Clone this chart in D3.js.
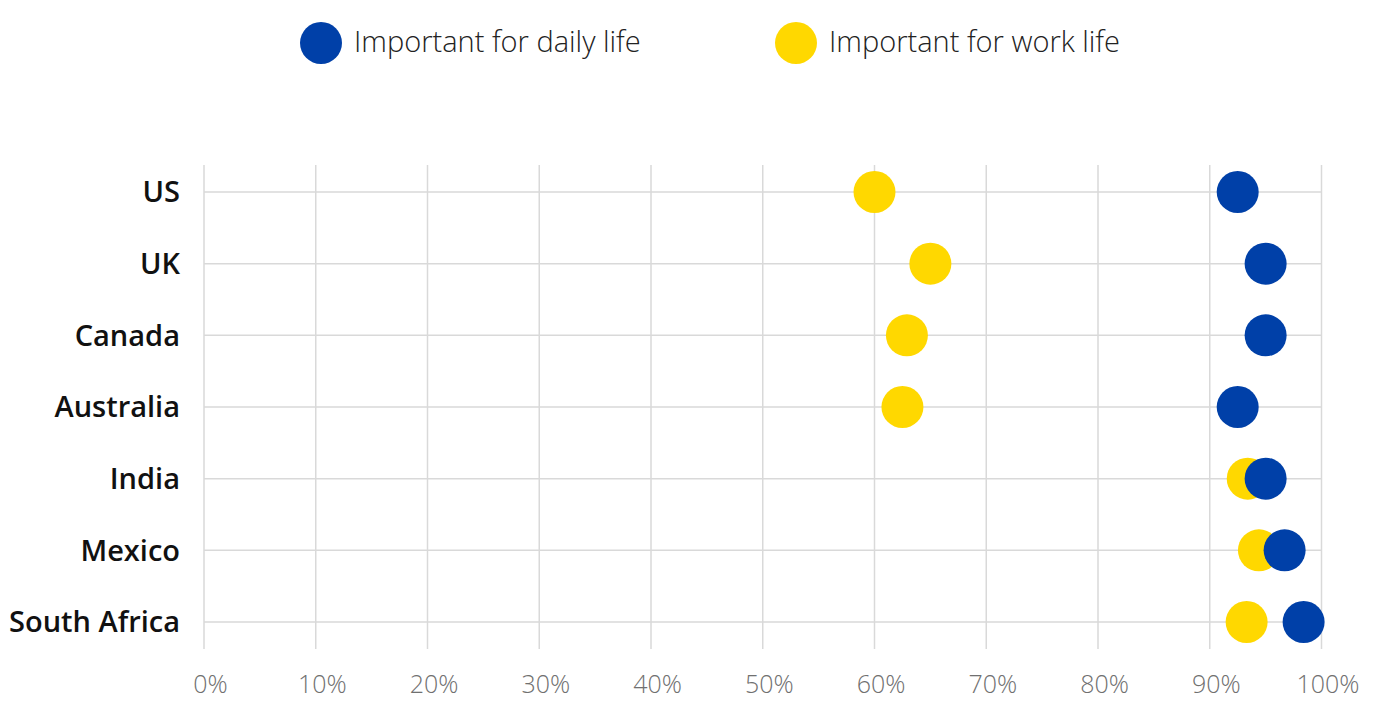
<!DOCTYPE html>
<html><head><meta charset="utf-8">
<script src="https://cdn.jsdelivr.net/npm/d3@7"></script>
<style>body{margin:0;background:#fff;}svg{display:block;font-family:"Open Sans",sans-serif;}</style>
</head><body><svg id="c" width="1375" height="706"></svg>
<script>
const countries = ["US","UK","Canada","Australia","India","Mexico","South Africa"];
const dailyLife = [92.5,95.0,95.0,92.5,95.0,96.7,98.4];
const workLife  = [60.0,65.0,62.9,62.5,93.4,94.4,93.3];
const xTicks = [0,10,20,30,40,50,60,70,80,90,100];
const seriesNames = ["Important for daily life","Important for work life"];
const colors = ["#0040A8","#FFD800"];

const svg = d3.select("#c");
const x = d3.scaleLinear().domain([0,100]).range([204,1321.5]);
const y = d3.scalePoint().domain(countries).range([165,649]).padding(0.377);

// grid
svg.append("g").selectAll("line").data(xTicks).join("line")
  .attr("x1",d=>x(d)).attr("x2",d=>x(d)).attr("y1",165).attr("y2",649)
  .attr("stroke","#d9d9d9").attr("stroke-width",1.5);
svg.append("g").selectAll("line").data(countries).join("line")
  .attr("x1",x(0)).attr("x2",x(100)).attr("y1",d=>y(d)).attr("y2",d=>y(d))
  .attr("stroke","#d9d9d9").attr("stroke-width",1.5);

// x axis labels
const xa = svg.append("g").attr("transform","translate(0,649)")
  .call(d3.axisBottom(x).tickValues(xTicks).tickFormat(d=>d+"%").tickSize(0).tickPadding(0));
xa.select(".domain").remove();
xa.selectAll("text").attr("dx",6).attr("dy",44).attr("font-size",25).attr("font-weight",300)
  .attr("fill","#707070").attr("font-family","'Open Sans',sans-serif");

// y axis labels
const ya = svg.append("g").attr("transform","translate(180,0)")
  .call(d3.axisLeft(y).tickSize(0).tickPadding(0));
ya.select(".domain").remove();
ya.selectAll("text").attr("font-size",29).attr("font-weight",600).attr("fill","#111")
  .attr("dy","0.34em").attr("font-family","'Open Sans',sans-serif");

// dots
svg.append("g").selectAll("circle").data(countries).join("circle")
  .attr("cx",(d,i)=>x(workLife[i])).attr("cy",d=>y(d)).attr("r",21).attr("fill",colors[1]);
svg.append("g").selectAll("circle").data(countries).join("circle")
  .attr("cx",(d,i)=>x(dailyLife[i])).attr("cy",d=>y(d)).attr("r",21).attr("fill",colors[0]);

// legend
const lx = [321,796];
const lg = svg.append("g").selectAll("g").data(seriesNames).join("g")
  .attr("transform",(d,i)=>`translate(${lx[i]},43)`);
lg.append("circle").attr("r",21).attr("fill",(d,i)=>colors[i]);
lg.append("text").attr("x",33).attr("dy","0.31em").attr("font-size",29).attr("font-weight",300)
  .attr("fill","#222").text(d=>d);
</script></body></html>
